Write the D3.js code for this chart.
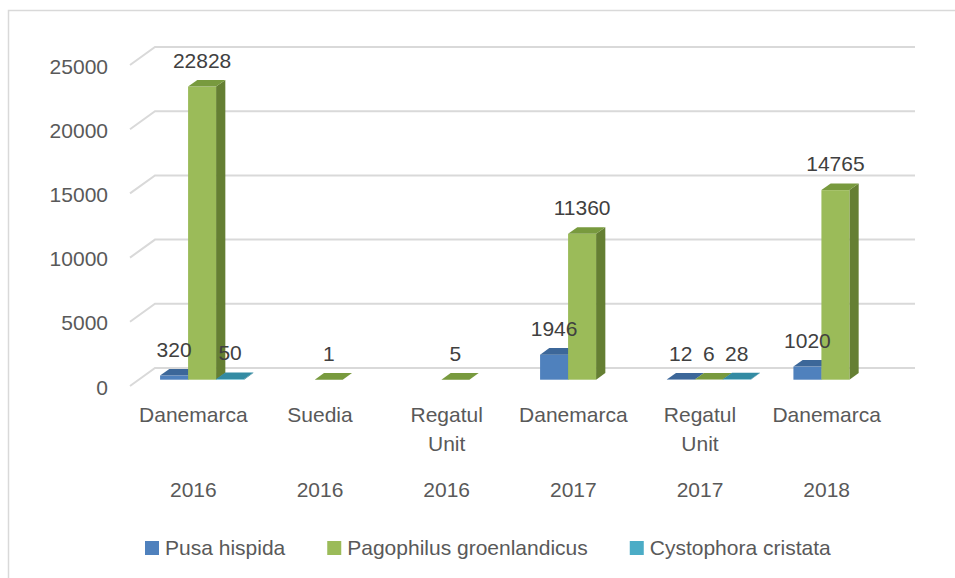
<!DOCTYPE html>
<html>
<head>
<meta charset="utf-8">
<script src="https://cdn.jsdelivr.net/npm/d3@7"></script>
<style>
  html, body { margin: 0; padding: 0; background: #ffffff; }
  svg { display: block; }
  text { font-family: "Liberation Sans", Arial, sans-serif; }
</style>
</head>
<body>
<svg id="chart" width="955" height="578"></svg>
<script>
// ---- data ----
const countries = ["Danemarca", "Suedia", "Regatul Unit", "Danemarca", "Regatul Unit", "Danemarca"];
const years = ["2016", "2016", "2016", "2017", "2017", "2018"];
const seriesNames = ["Pusa hispida", "Pagophilus groenlandicus", "Cystophora cristata"];
const pusaHispida = [320, null, null, 1946, 12, 1020];
const pagophilusGroenlandicus = [22828, 1, 5, 11360, 6, 14765];
const cystophoraCristata = [50, null, null, null, 28, null];
const yTicks = [0, 5000, 10000, 15000, 20000, 25000];

const seriesValues = [pusaHispida, pagophilusGroenlandicus, cystophoraCristata];
const palette = [
  { front: "#4F81BD", top: "#3C6799", side: "#375B87" },
  { front: "#9BBB59", top: "#789A3E", side: "#657F33" },
  { front: "#4BACC6", top: "#338BA3", side: "#2F7C92" }
];

const svg = d3.select("#chart");
const W = 955, H = 578;

// chart border
svg.append("rect").attr("x", 8.5).attr("y", 10.5).attr("width", 960).attr("height", 600)
  .attr("fill", "none").attr("stroke", "#D9D9D9").attr("stroke-width", 1.5);

// 3D geometry
const DX = 25, DY = -18;           // floor depth offset
const T1 = 0.35, T2 = 0.72;        // bar front / back depth fraction
const plotLeft = 130, plotRight = 890;

const idx = d3.range(countries.length);
const x = d3.scaleBand().domain(idx).range([plotLeft, plotRight]);
const xSub = d3.scaleBand().domain(d3.range(seriesNames.length)).range([-42, 42]);
const y = d3.scaleLinear().domain([0, 25000]).range([386, 65]);

// gridlines (side wall + back wall)
const grid = svg.append("g");
yTicks.forEach(t => {
  const yf = y(t);
  grid.append("polyline")
    .attr("points", `${plotLeft},${yf} ${plotLeft + DX},${yf + DY} ${plotRight + DX},${yf + DY}`)
    .attr("fill", "none").attr("stroke", "#D9D9D9").attr("stroke-width", 2);
});

// value axis labels
svg.append("g").selectAll("text").data(yTicks).join("text")
  .attr("x", 108).attr("y", d => y(d) + 1)
  .attr("text-anchor", "end").attr("dominant-baseline", "central")
  .attr("font-size", 21).attr("fill", "#595959")
  .text(d => d);

// bars
const ox1 = DX * T1, oy1 = DY * T1, ox2 = DX * T2, oy2 = DY * T2;
const bars = svg.append("g");
const labels = [];
idx.forEach(i => {
  seriesValues.forEach((vals, s) => {
    const v = vals[i];
    if (v === null || v === undefined) return;
    const w = xSub.bandwidth();
    const x0 = x(i) + x.bandwidth() / 2 + xSub(s);
    const yb = y(0), yt = y(v);
    const c = palette[s];
    const g = bars.append("g");
    // side
    g.append("polygon")
      .attr("points", [[x0 + w + ox1, yt + oy1], [x0 + w + ox2, yt + oy2], [x0 + w + ox2, yb + oy2], [x0 + w + ox1, yb + oy1]].map(p => p.join(",")).join(" "))
      .attr("fill", c.side);
    // front
    g.append("rect")
      .attr("x", x0 + ox1).attr("y", yt + oy1)
      .attr("width", w).attr("height", Math.max(0, yb - yt))
      .attr("fill", c.front);
    // top
    g.append("polygon")
      .attr("points", [[x0 + ox1, yt + oy1], [x0 + w + ox1, yt + oy1], [x0 + w + ox2, yt + oy2], [x0 + ox2, yt + oy2]].map(p => p.join(",")).join(" "))
      .attr("fill", c.top);
    labels.push({ x: x0 + ox1 + w / 2, y: yt + oy2 - 12, v });
  });
});

// data labels
svg.append("g").selectAll("text").data(labels).join("text")
  .attr("x", d => d.x).attr("y", d => d.y)
  .attr("text-anchor", "middle")
  .attr("font-size", 21).attr("fill", "#404040")
  .text(d => d.v);

// category labels (two levels)
const cat = svg.append("g");
idx.forEach(i => {
  const cx = x(i) + x.bandwidth() / 2;
  const words = countries[i].split(" ");
  words.forEach((wd, k) => {
    cat.append("text").attr("x", cx).attr("y", 422 + k * 29)
      .attr("text-anchor", "middle").attr("font-size", 21).attr("fill", "#595959")
      .text(wd);
  });
  cat.append("text").attr("x", cx).attr("y", 497)
    .attr("text-anchor", "middle").attr("font-size", 21).attr("fill", "#595959")
    .text(years[i]);
});

// legend
const legend = svg.append("g");
let lx = 145;
seriesNames.forEach((name, s) => {
  legend.append("rect").attr("x", lx).attr("y", 541).attr("width", 14).attr("height", 14)
    .attr("fill", palette[s].front);
  const t = legend.append("text").attr("x", lx + 20).attr("y", 555)
    .attr("font-size", 21).attr("fill", "#595959").text(name);
  lx = lx + 20 + t.node().getComputedTextLength() + 42;
});
</script>
</body>
</html>
